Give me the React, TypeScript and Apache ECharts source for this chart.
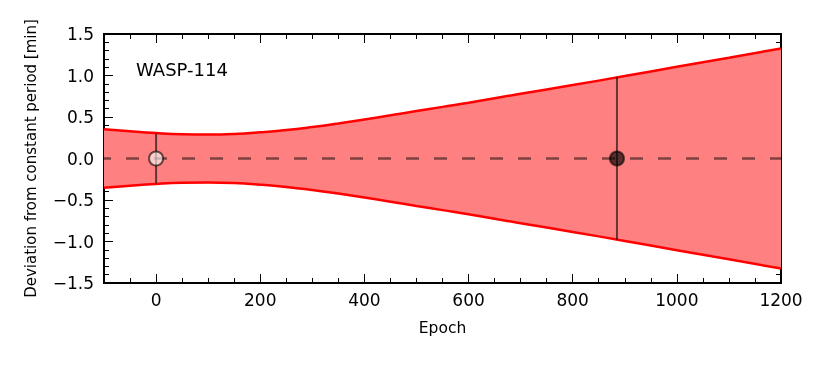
import React, { useEffect, useRef } from "react";
import * as echarts from "echarts";

const epochs = [-100, -50, 0, 50, 100, 150, 200, 250, 300, 350, 400, 450, 500, 550, 600, 700, 800, 900, 1000, 1100, 1200];
const upperDev = [0.352, 0.327, 0.306, 0.292, 0.288, 0.295, 0.315, 0.343, 0.38, 0.423, 0.47, 0.52, 0.572, 0.622, 0.672, 0.78, 0.885, 0.993, 1.105, 1.215, 1.326];
const lowerDev = [-0.352, -0.327, -0.306, -0.292, -0.288, -0.295, -0.315, -0.343, -0.38, -0.423, -0.47, -0.52, -0.572, -0.622, -0.672, -0.78, -0.885, -0.993, -1.105, -1.215, -1.326];

const obsEpoch = [0, 885];
const obsDev = [0, 0];
const obsErr = [0.3, 0.98];
const obsFill = ["rgba(255,255,255,0.6)", "rgba(0,0,0,0.65)"];

const xTicks = [0, 200, 400, 600, 800, 1000, 1200];
const yTicks = [-1.5, -1.0, -0.5, 0.0, 0.5, 1.0, 1.5];

const FONT = "DejaVu Sans";

export default function App() {
  const ref = useRef<HTMLDivElement>(null);
  useEffect(() => {
    const chart = echarts.init(ref.current!, null, { renderer: "svg" });
    const axisLine = { show: true, onZero: false, lineStyle: { color: "#000", width: 2 } };
    const minorX = (pos: string) => ({
      type: "value", position: pos, min: -100, max: 1200, interval: 50,
      axisLine, splitLine: { show: false },
      axisTick: { show: true, inside: true, length: 5, lineStyle: { color: "#000", width: 1 } },
      axisLabel: { show: false },
    });
    const majorX = (pos: string, label: boolean) => ({
      type: "value", position: pos, min: -100, max: 1200,
      axisLine, splitLine: { show: false },
      axisTick: { show: true, inside: true, length: 9, customValues: xTicks, lineStyle: { color: "#000", width: 1 } },
      axisLabel: label
        ? { show: true, customValues: xTicks, margin: 8, fontFamily: FONT, fontSize: 17, color: "#000", formatter: (v: number) => String(v) }
        : { show: false },
      ...(label ? { name: "Epoch", nameLocation: "middle", nameGap: 37, nameTextStyle: { fontFamily: FONT, fontSize: 15.5, color: "#000" } } : {}),
    });
    const minorY = (pos: string) => ({
      type: "value", position: pos, min: -1.5, max: 1.5, interval: 0.1,
      axisLine, splitLine: { show: false },
      axisTick: { show: true, inside: true, length: 5, lineStyle: { color: "#000", width: 1 } },
      axisLabel: { show: false },
    });
    const majorY = (pos: string, label: boolean) => ({
      type: "value", position: pos, min: -1.5, max: 1.5,
      axisLine, splitLine: { show: false },
      axisTick: { show: true, inside: true, length: 9, customValues: yTicks, lineStyle: { color: "#000", width: 1 } },
      axisLabel: label
        ? { show: true, customValues: yTicks, margin: 10, fontFamily: FONT, fontSize: 17, color: "#000", formatter: (v: number) => v.toFixed(1).replace("-", "\u2212") }
        : { show: false },
      ...(label ? { name: "Deviation from constant period [min]", nameLocation: "middle", nameGap: 66, nameRotate: 90, nameTextStyle: { fontFamily: FONT, fontSize: 15, color: "#000" } } : {}),
    });

    const upper = epochs.map((e, i) => [e, upperDev[i]]);
    const lower = epochs.map((e, i) => [e, lowerDev[i]]);
    const obs = obsEpoch.map((e, i) => [e, obsDev[i], obsErr[i]]);

    chart.setOption({
      animation: false,
      grid: { left: 104, right: 49, top: 34, bottom: 83 },
      xAxis: [minorX("bottom"), majorX("bottom", true), minorX("top"), majorX("top", false)],
      yAxis: [minorY("left"), majorY("left", true), minorY("right"), majorY("right", false)],
      graphic: [
        { type: "text", left: 136, top: 60, style: { text: "WASP-114", fontFamily: FONT, fontSize: 18, fill: "#000" }, z: 100 },
      ],
      series: [
        {
          type: "custom", data: [[epochs[0], 0]], z: 1, clip: true,
          renderItem: (params: any, api: any) => {
            const pts: number[][] = [];
            for (let i = 0; i < epochs.length; i++) pts.push(api.coord([epochs[i], upperDev[i]]));
            for (let i = epochs.length - 1; i >= 0; i--) pts.push(api.coord([epochs[i], lowerDev[i]]));
            return { type: "polygon", shape: { points: pts }, style: { fill: "#ff8080", stroke: "none" } };
          },
        },
        {
          type: "line", data: upper, symbol: "none", smooth: 0.5, z: 2,
          lineStyle: { color: "#ff0000", width: 2.5 },
        },
        {
          type: "line", data: lower, symbol: "none", smooth: 0.5, z: 2,
          lineStyle: { color: "#ff0000", width: 2.5 },
        },
        {
          type: "line", data: [[-100, 0], [1200, 0]], symbol: "none", z: 3,
          lineStyle: { color: "rgba(0,0,0,0.5)", width: 2.5, type: [13, 15], dashOffset: 6 },
        },
        {
          type: "custom", data: obs, z: 4,
          renderItem: (params: any, api: any) => {
            const x = api.value(0), y = api.value(1), e = api.value(2);
            const p1 = api.coord([x, y - e]);
            const p2 = api.coord([x, y + e]);
            return {
              type: "line",
              shape: { x1: p1[0], y1: p1[1], x2: p2[0], y2: p2[1] },
              style: { stroke: "rgba(0,0,0,0.6)", lineWidth: 2 },
            };
          },
        },
        {
          type: "scatter", z: 5, symbolSize: 14,
          data: obs.map((d, i) => ({
            value: [d[0], d[1]],
            itemStyle: { color: obsFill[i], borderColor: "rgba(0,0,0,0.6)", borderWidth: 2, opacity: 1 },
          })),
        },
      ],
    });
    return () => chart.dispose();
  }, []);
  return <div ref={ref} style={{ position: "fixed", left: 0, top: 0, width: 830, height: 366 }} />;
}
